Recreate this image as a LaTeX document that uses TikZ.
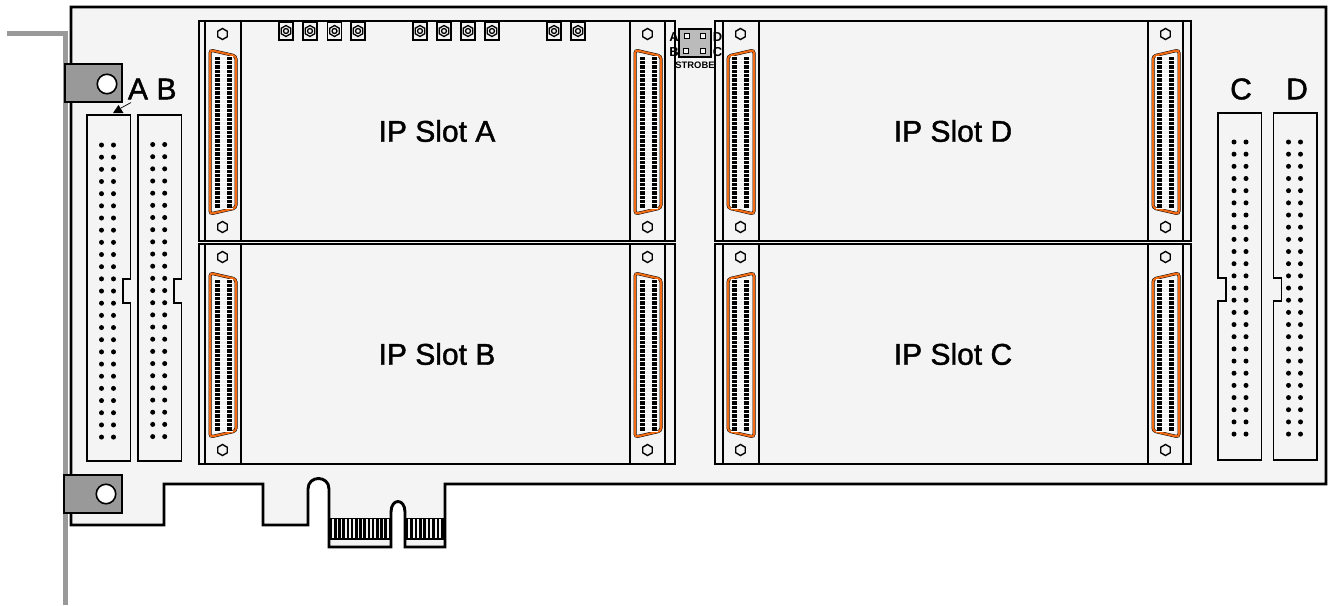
\documentclass[tikz,border=0pt]{standalone}
\usepackage{fontspec}
\setmainfont{Liberation Sans}
\newfontfamily\heavyfont[FakeBold=1.4]{Liberation Sans}
\usetikzlibrary{shapes.geometric}
\definecolor{boardgray}{HTML}{F4F4F4}
\definecolor{bracketgray}{HTML}{999999}
\definecolor{stripgray}{HTML}{BBBBBB}
\definecolor{connorange}{HTML}{F26A12}
\def\rowdy{12.17}
\tikzstyle{boardline}=[draw=black,line width=2.9pt,fill=boardgray]
\tikzstyle{slotbox}=[draw=black,line width=2.9pt,fill=boardgray,anchor=north west,inner sep=0pt,outer sep=0pt,font=\heavyfont\fontsize{30}{30}\selectfont]
\tikzstyle{stripline}=[draw=black,line width=1.4pt]
\tikzstyle{hexhole}=[draw=black,line width=1.4pt,fill=boardgray,regular polygon,regular polygon sides=6,shape border rotate=30,minimum size=11pt,inner sep=0pt]
\tikzstyle{headerbox}=[draw=black,line width=1.6pt,fill=boardgray]
\tikzstyle{tabbox}=[draw=black,line width=1.6pt,fill=bracketgray,inner sep=0pt,outer sep=0pt,anchor=north west]
\tikzstyle{tabhole}=[draw=black,line width=1.6pt,fill=white,circle,minimum size=19.5pt,inner sep=0pt]
\tikzstyle{bigtext}=[font=\heavyfont\fontsize{30}{30}\selectfont,inner sep=0pt]
\tikzstyle{tinytext}=[font=\bfseries\fontsize{13}{13}\selectfont,inner sep=0pt]
\tikzstyle{smabox}=[draw=black,line width=1.6pt,fill=boardgray,minimum width=14pt,minimum height=18pt,inner sep=0pt]
\tikzstyle{pinbox}=[draw=black,line width=1.2pt,fill=boardgray,minimum size=5.5pt,inner sep=0pt]
% #1 centre x, #2 top y, #3 side of the tall edge
\newcommand{\newConn}[3]{
  \begin{scope}[shift={(#1,#2)},xscale=#3]
    \draw[black,line width=3pt,rounded corners=3pt,fill=boardgray] (-13,0) -- (13,6) -- (13,158) -- (-13,164) -- cycle;
    \draw[connorange,line width=2.1pt,rounded corners=3pt] (-13,0) -- (13,6) -- (13,158) -- (-13,164) -- cycle;
    \fill[black] (-8,6) rectangle (-3,158);
    \fill[black] (4,6) rectangle (9,158);
    \foreach \r in {0,...,35}
      \draw[white,line width=0.5pt] (-9,{6+\r*4.34}) -- (10,{6+\r*4.34});
  \end{scope}
}
% #1 name, #2 x, #3 y, #4 strip offset, #5 label, #6 side of the connectors
\newcommand{\newSlot}[6]{
  \begin{scope}[shift={(#2,#3)}]
    \node[slotbox,minimum width=476pt,minimum height=220pt](#1) at (0,0) {#5};
    \draw[stripline] (#4,0) -- (#4,220);
    \draw[stripline] ({#4+36},0) -- ({#4+36},220);
    \draw[stripline] ({#4+425},0) -- ({#4+425},220);
    \draw[stripline] ({#4+460},0) -- ({#4+460},220);
    \node[hexhole](#1a) at ({#4+17.5},13) {};
    \node[hexhole](#1b) at ({#4+17.5},206) {};
    \node[hexhole](#1c) at ({#4+442.5},13) {};
    \node[hexhole](#1d) at ({#4+442.5},206) {};
    \newConn{{#4+18}}{29}{#6}
    \newConn{{#4+443}}{29}{#6}
  \end{scope}
}
% #1 left x, #2 top y, #3 notch side: 1 right, -1 left, #4 first dot x, #5 first dot y
\newcommand{\newHeader}[5]{
  \begin{scope}[shift={(#1,#2)}]
    \ifnum#3=1
      \draw[headerbox] (0,0) -- (43.5,0) -- (43.5,164) -- (36,164) -- (36,188) -- (43.5,188) -- (43.5,346) -- (0,346) -- cycle;
    \else
      \draw[headerbox] (0,0) -- (43.5,0) -- (43.5,347) -- (0,347) -- (0,188) -- (8,188) -- (8,165) -- (0,165) -- cycle;
    \fi
    \foreach \r in {0,...,24}{
      \fill[black] (#4,{#5+\r*\rowdy}) circle (2.5);
      \fill[black] ({#4+12},{#5+\r*\rowdy}) circle (2.5);
    }
  \end{scope}
}
\begin{document}
\begin{tikzpicture}[x=1pt,y=-1pt,>=latex]
  \useasboundingbox (0,0) rectangle (1330,605);
  \draw[bracketgray,line width=5pt] (7,33) -- (65,33) -- (65,605);
  \draw[boardline] (71,7) -- (1326,7) -- (1326,484) -- (445,484) -- (445,547) -- (405,547) -- (405,512)
    .. controls (405,498) and (391,498) .. (391,512) -- (391,547) -- (329,547) -- (329,489)
    .. controls (329,475) and (308,475) .. (308,489) -- (308,525) -- (263,525) -- (263,484) -- (164,484) -- (164,525) -- (71,525) -- cycle;
  \foreach \s in {0,...,14} \draw[black,line width=2.6pt] ({331+\s*4.2},518) -- ({331+\s*4.2},539);
  \foreach \s in {0,...,8} \draw[black,line width=2.6pt] ({407+\s*4.4},518) -- ({407+\s*4.4},539);
  \draw[black,line width=1.6pt] (329,518.5) -- (391,518.5) (405,518.5) -- (445,518.5) (329,539) -- (391,539) (405,539) -- (445,539);
  \node[tabbox,minimum width=57pt,minimum height=38pt](tabtop) at (65,64) {};
  \node[tabhole](holetop) at (107,84) {};
  \node[tabbox,minimum width=58pt,minimum height=38pt](tabbot) at (64,475) {};
  \node[tabhole](holebot) at (106,494) {};
  \newHeader{87}{115}{1}{14.5}{30}
  \newHeader{138}{115}{1}{14.7}{29.5}
  \newHeader{1218}{113}{-1}{16}{29}
  \newHeader{1273.5}{113}{-1}{15}{29}
  \newSlot{slotA}{199}{21}{6}{IP Slot A}{1}
  \newSlot{slotB}{199}{244}{6}{IP Slot B}{1}
  \newSlot{slotD}{715}{21}{8}{IP Slot D}{-1}
  \newSlot{slotC}{715}{244}{8}{IP Slot C}{-1}
  \foreach \i/\x in {1/286,2/310,3/334.5,4/358,5/420,6/444,7/468,8/492,9/554,10/578}{
    \node[smabox](sma\i) at (\x,31) {};
    \node[draw=black,line width=1.3pt,regular polygon,regular polygon sides=6,shape border rotate=30,minimum size=11pt,inner sep=0pt](smahex\i) at (\x,31) {};
    \node[draw=black,line width=1.3pt,circle,minimum size=5pt,inner sep=0pt](smapin\i) at (\x,31) {};
  }
  \node[draw=black,line width=1.6pt,fill=stripgray,minimum width=32pt,minimum height=28pt,inner sep=0pt](strobe) at (695,43) {};
  \node[pinbox](pinA) at (687,36) {};
  \node[pinbox](pinD) at (703,36) {};
  \node[pinbox](pinB) at (686,51) {};
  \node[pinbox](pinC) at (703,51) {};
  \node[tinytext](txtA) at (674,37) {A};
  \node[tinytext](txtB) at (674,52) {B};
  \node[tinytext](txtD) at (717.5,37) {D};
  \node[tinytext](txtC) at (717.5,52) {C};
  \node[inner sep=0pt,font=\bfseries\fontsize{9.4}{9.4}\selectfont](txtstrobe) at (695,65) {STROBE};
  \node[bigtext](lblA) at (138,89) {A};
  \node[bigtext](lblB) at (166.5,89) {B};
  \node[bigtext](lblC) at (1241,89) {C};
  \node[bigtext](lblD) at (1297,89) {D};
  \coordinate (arrowtip) at (121,108);
  \draw[black,line width=0.7pt] (lblA.south) ++(-7,3) -- (arrowtip);
  \fill[black] (113,113) -- (118.5,105) -- (123.5,113) -- cycle;
\end{tikzpicture}
\end{document}
